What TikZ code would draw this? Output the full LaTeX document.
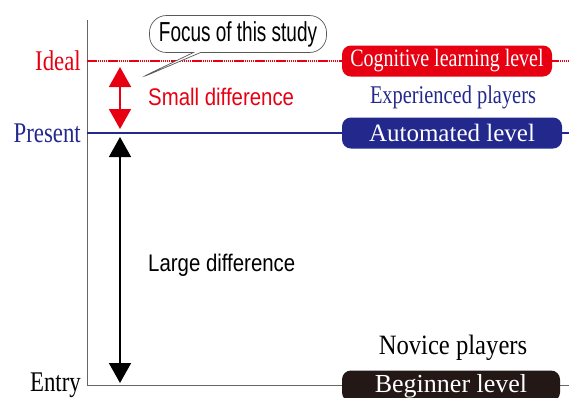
\documentclass[tikz,border=0pt]{standalone}
\usepackage{fontspec}
\setmainfont{Liberation Serif}[FakeStretch=0.8]
\newfontfamily\narrowsans{Liberation Sans}[FakeStretch=0.85]
\newfontfamily\calloutsans{Liberation Sans}[FakeStretch=0.69]
\newfontfamily\widerserif{Liberation Serif}
\newfontfamily\mediumserif{Liberation Serif}[FakeStretch=0.88]
\usetikzlibrary{arrows.meta, positioning, shapes.callouts}
\definecolor{idealred}{RGB}{230,0,18}
\definecolor{presentblue}{RGB}{35,40,140}
\definecolor{entrydark}{RGB}{35,24,21}
\tikzstyle{levelbox} = [rounded corners=9pt, text=white, minimum height=31pt, inner sep=0pt]
\tikzstyle{levellabel} = [anchor=east, inner sep=0pt, font=\fontsize{28.5}{28.5}\selectfont]
\tikzstyle{diffarrow} = [line width=1.6pt, {Triangle[width=22pt,length=20pt]}-{Triangle[width=22pt,length=20pt]}]
\tikzstyle{difftext} = [anchor=west, inner sep=0pt, font=\narrowsans\fontsize{24}{24}\selectfont]

\begin{document}
\begin{tikzpicture}[x=1pt, y=-1pt]
  \useasboundingbox (0,0) rectangle (569,397);
  \clip (0,0) rectangle (569,397);

  % axis
  \coordinate (top) at (87,20);
  \coordinate (ideal) at (87,61);
  \coordinate (present) at (87,133);
  \coordinate (entry) at (87,385);
  \coordinate (idealend) at (569,61);
  \coordinate (presentend) at (569,133);
  \coordinate (entryend) at (569,385);
  \draw [draw=gray!80!black, line width=0.9pt] (top) -- (entry);

  % level lines
  \draw [draw=idealred, dash pattern=on 1.5pt off 0.6pt, line width=1.2pt] (ideal) -- (idealend);
  \draw [draw=presentblue, line width=1.1pt] (present) -- (presentend);
  \draw [draw=gray!80!black, line width=0.9pt] (entry) -- (entryend);

  \node [levellabel, text=idealred] (ideallabel) at (81,61) {Ideal};
  \node [levellabel, text=presentblue] (presentlabel) at (81,133) {Present};
  \node [levellabel, text=black] (entrylabel) at (81,385) {Entry};

  % levels
  \node [levelbox, fill=idealred, minimum width=210pt, font=\fontsize{25}{25}\selectfont] (cognitive) at (447,61) {Cognitive learning level};
  \node [levelbox, fill=presentblue, minimum width=220pt, font=\widerserif\fontsize{25}{25}\selectfont] (automated) at (452,133) {Automated level};
  \node [levelbox, fill=entrydark, minimum width=218pt, font=\widerserif\fontsize{26}{26}\selectfont] (beginner) at (451,386) {Beginner level};

  \node [text=presentblue, font=\fontsize{25.5}{25.5}\selectfont] (experienced) at (453,97) {Experienced players};
  \node [text=black, font=\mediumserif\fontsize{28}{28}\selectfont] (novice) at (453,348) {Novice players};

  % differences
  \coordinate (smalltop) at (120,67);
  \coordinate (smallbot) at (120,129);
  \coordinate (largetop) at (120,137);
  \coordinate (largebot) at (120,383);
  \draw [diffarrow, draw=idealred, fill=idealred] (smalltop) -- (smallbot);
  \draw [diffarrow, draw=black, fill=black] (largetop) -- (largebot);

  \node [difftext, text=idealred] (small) at (148,97) {Small difference};
  \node [difftext, text=black] (large) at (148,265) {Large difference};

  % callout
  \node [rectangle callout, draw=gray!70!black, rounded corners=17pt, fill=white, line width=0.7pt,
    minimum width=177pt, minimum height=37pt, inner sep=0pt,
    callout absolute pointer={(136,80)},
    font=\calloutsans\fontsize{27.5}{27.5}\selectfont] (focus) at (238,34) {Focus of this study};
\end{tikzpicture}
\end{document}
